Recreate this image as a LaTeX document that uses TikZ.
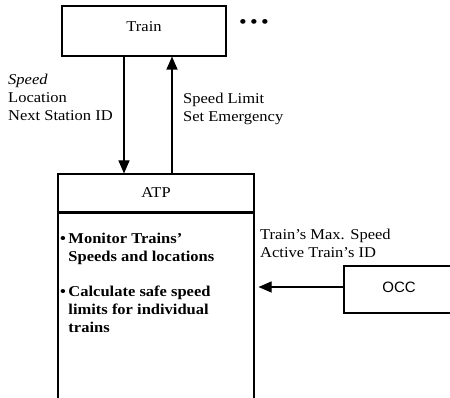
\documentclass[tikz,border=0pt]{standalone}
\usepackage{fontspec}
\setmainfont{Liberation Serif}[FakeStretch=1.1]
\newfontfamily\occfont{Liberation Sans}
\usetikzlibrary{arrows.meta}

\begin{document}
\begin{tikzpicture}[x=1pt, y=-1pt, font=\fontsize{15}{18}\selectfont,
    block/.style={rectangle, draw, line width=1.1pt, inner sep=0pt},
    flow/.style={draw, line width=1.1pt, -{Triangle[length=13pt, width=11pt]}},
    label/.style={align=left, inner sep=0pt, anchor=north west}]
    \clip (0,0) rectangle (450,398);

    % Draw nodes
    \node[block, minimum width=164pt, minimum height=50pt] (train) at (144,31) {\raisebox{9pt}{Train}};
    \node[inner sep=0pt, font=\fontsize{20}{20}\selectfont] (dots) at (254,24) {\textbullet\,\textbullet\,\textbullet};
    \node[block, minimum width=196pt, minimum height=38pt] (atp) at (156,193) {ATP};
    \node[block, minimum width=196pt, minimum height=200pt, anchor=north] (atpbody) at (atp.south) {};
    \node[block, minimum width=110pt, minimum height=47pt] (occ) at (399,289.5) {\occfont\raisebox{5pt}{OCC}};

    % Draw connections
    \draw[flow] ([xshift=-20pt]train.south) -- ([xshift=-20pt]train.south |- atp.north);
    \draw[flow] ([xshift=28pt]train.south |- atp.north) -- ([xshift=28pt]train.south);
    \draw[flow, shorten >=4pt] (occ.west |- 0,287) -- (atpbody.east |- 0,287);

    % Labels
    \node[label] (trainout) at (8,74) {\textit{Speed}\\Location\\Next Station ID};
    \node[label] (trainin) at (183,93) {Speed Limit\\Set Emergency};
    \node[label] (occout) at (260,229) {Train's Max. Speed\\Active Train's ID};
    \node[label, font=\fontsize{15}{18}\selectfont\bfseries] (tasks) at (60,233)
        {\textbullet\,Monitor Trains'\\
         \phantom{\textbullet\,}Speeds and locations\\[17pt]
         \textbullet\,Calculate safe speed\\
         \phantom{\textbullet\,}limits for individual\\
         \phantom{\textbullet\,}trains};
\end{tikzpicture}
\end{document}
